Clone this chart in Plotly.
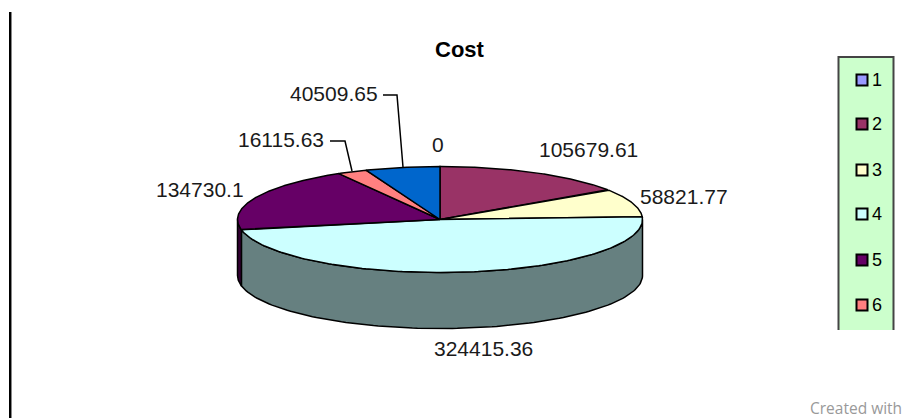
import numpy as np
import plotly.graph_objects as go

# --- data ---
categories = ["1", "2", "3", "4", "5", "6", "7"]
values = [0, 105679.61, 58821.77, 324415.36, 134730.1, 16115.63, 40509.65]
value_labels = ["0", "105679.61", "58821.77", "324415.36", "134730.1", "16115.63", "40509.65"]
top_colors = ["#9999FF", "#993366", "#FFFFCC", "#CCFFFF", "#660066", "#FF8080", "#0066CC"]
side_colors = ["#4D4D80", "#4D1A33", "#808066", "#668080", "#330033", "#804040", "#003366"]
title = "Cost"
footer = "Created with"
legend_shown = 6

# --- geometry of the tilted pie, in page pixels ---
CX, CY, RX, RY, DEPTH = 440, 219.5, 202.5, 53, 56
FONT = "Liberation Sans, Arial, sans-serif"
OUTLINE = dict(color="#000000", width=1.5)


def ell(deg, dy=0.0):
    a = np.radians(deg)
    return CX + RX * np.sin(a), CY - RY * np.cos(a) + dy


fig = go.Figure()


def poly(xs, ys, fill, line=OUTLINE):
    fig.add_trace(go.Scatter(x=list(xs), y=list(ys), mode="lines", fill="toself",
                             fillcolor=fill, line=line, hoverinfo="skip", showlegend=False))


total = sum(values)
edges = np.concatenate([[0], np.cumsum(values) / total * 360])

# outer wall: only the front half (90..270 deg clockwise from 12 o'clock) is visible
for i, col in enumerate(side_colors):
    a0, a1 = max(edges[i], 90), min(edges[i + 1], 270)
    if a1 <= a0:
        continue
    t = np.linspace(a0, a1, 120)
    xt, yt = ell(t)
    xb, yb = ell(t[::-1], DEPTH)
    poly(np.r_[xt, xb, xt[0]], np.r_[yt, yb, yt[0]], col)

# top faces
for i, col in enumerate(top_colors):
    if values[i] == 0:
        continue
    t = np.linspace(edges[i], edges[i + 1], 160)
    xt, yt = ell(t)
    poly(np.r_[CX, xt, CX], np.r_[CY, yt, CY], col)

# leader lines
for lx, ly in [([383, 397, 403], [95, 95, 167]), ([330, 345, 352], [141, 141, 171])]:
    fig.add_trace(go.Scatter(x=lx, y=ly, mode="lines", line=dict(color="#000000", width=1.5),
                             hoverinfo="skip", showlegend=False))

# legend keys
key_y = [80, 124, 170, 214, 260, 305]
fig.add_trace(go.Scatter(
    x=[862] * legend_shown, y=key_y, mode="markers",
    marker=dict(symbol="square", size=11, color=top_colors[:legend_shown],
                line=dict(color="#000000", width=2)),
    hoverinfo="skip", showlegend=False))

ann = []


def text(x, y, s, anchor="center", size=21, color="#1a1a1a", family=FONT):
    ann.append(dict(x=x, y=y, text=s, xref="x", yref="y", showarrow=False, xanchor=anchor,
                    yanchor="middle", font=dict(family=family, size=size, color=color)))


text(460, 49, "<b>%s</b>" % title, size=22, color="#000000")
text(380, 93, value_labels[6], "right")
text(326, 139, value_labels[5], "right")
text(438, 144, value_labels[0])
text(588, 149, value_labels[1])
text(638, 196, value_labels[2], "left")
text(246, 189, value_labels[4], "right")
text(483, 348, value_labels[3])
for c, y in zip(categories[:legend_shown], key_y):
    text(870, y, c, "left", size=18, color="#000000")
text(904, 408, footer, "right", size=15.5, color="#999999", family="Open Sans, sans-serif")

shapes = [
    dict(type="rect", x0=838, x1=894, y0=57, y1=330, fillcolor="#CCFFCC",
         line=dict(width=0), layer="below"),
    dict(type="path", path="M 838.5 330 L 838.5 57 L 893.5 57 L 893.5 330",
         line=dict(color="#444444", width=2), layer="below"),
    dict(type="line", x0=10, x1=10, y0=12, y1=418, line=dict(color="#000000", width=2), layer="below"),
    dict(type="line", x0=11.5, x1=11.5, y0=12, y1=418, line=dict(color="#888888", width=1), layer="below"),
]

fig.update_layout(
    width=908, height=418, margin=dict(l=0, r=0, t=0, b=0),
    paper_bgcolor="#FFFFFF", plot_bgcolor="#FFFFFF",
    xaxis=dict(range=[0, 908], visible=False, fixedrange=True),
    yaxis=dict(range=[418, 0], visible=False, fixedrange=True),
    annotations=ann, shapes=shapes, showlegend=False,
)
fig.write_html("out.html", config={"displayModeBar": False},
               post_script="document.body.style.margin='0';document.body.style.overflow='hidden';")
